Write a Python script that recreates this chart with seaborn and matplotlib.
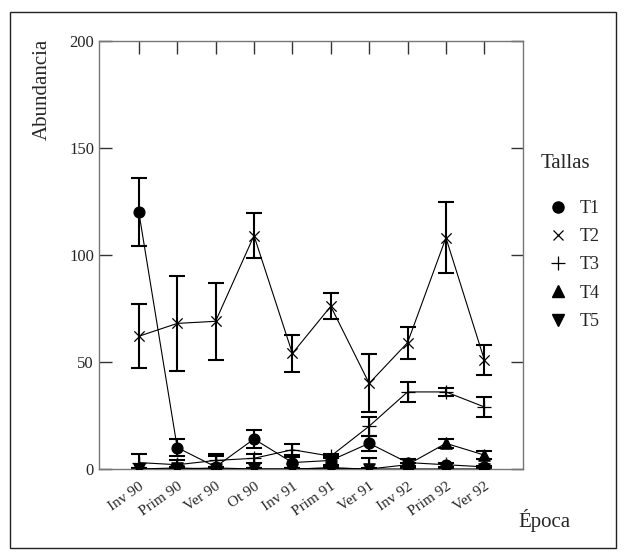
import matplotlib
matplotlib.use("Agg")
import matplotlib.pyplot as plt
from matplotlib.patches import Rectangle
from matplotlib.lines import Line2D
import seaborn as sns
import pandas as pd

# Datos
epocas = ["Inv 90", "Prim 90", "Ver 90", "Ot 90", "Inv 91",
          "Prim 91", "Ver 91", "Inv 92", "Prim 92", "Ver 92"]
tallas = ["T1", "T2", "T3", "T4", "T5"]

t1 = [120, 10, 1, 14, 3, 4, 12, 3, 2, 1]
t1_err = [16, 4, 5, 4, 2.5, 2, 3.5, 1.5, 1, 0.5]
t2 = [62, 68, 69, 109, 54, 76, 40, 59, 108, 51]
t2_err = [15, 22, 18, 10.5, 8.5, 6, 13.5, 7.5, 16.5, 7]
t3 = [3, 2, 4, 5, 9, 6, 20, 36, 36, 29]
t3_err = [4, 2, 3, 2, 2.5, 1, 4.5, 4.5, 2, 4.5]
t4 = [0, 0, 0.5, 0, 0, 0.5, 0, 2, 12, 6.5]
t4_err = [0.5, 0.5, 0.5, 0.5, 0.5, 0.5, 0.5, 1, 2, 2]
t5 = [0, 0.5, 0, 0, 0, 0.5, 0, 0, 0, 0]
t5_err = [0.5, 0.5, 0.5, 0.5, 0.5, 0.5, 5, 0.5, 0.5, 0.5]

valores = [t1, t2, t3, t4, t5]
errores = [t1_err, t2_err, t3_err, t4_err, t5_err]
marcadores = ["o", "x", "+", "^", "v"]

sns.set_style("ticks")
plt.rcParams["font.family"] = ["Liberation Serif", "DejaVu Serif"]

df = pd.DataFrame({
    "pos": [i for _ in tallas for i in range(len(epocas))],
    "abundancia": [v for serie in valores for v in serie],
    "talla": [t for t in tallas for _ in epocas],
})

fig = plt.figure(figsize=(6.26, 5.59), dpi=100)
ax = fig.add_axes([0.158, 0.161, 0.677, 0.766])

# Barras de error
for serie, err in zip(valores, errores):
    ax.errorbar(range(len(epocas)), serie, yerr=err, fmt="none",
                ecolor="black", elinewidth=1.5, capsize=6, capthick=1.5, zorder=2)

# Líneas
sns.lineplot(data=df, x="pos", y="abundancia", hue="talla",
             palette=["black"] * 5, linewidth=0.8, legend=False, ax=ax, zorder=3)

# Marcadores
estilos = {"o": dict(marker="o", s=60),
           "x": dict(marker="x", s=55, linewidths=0.9),
           "+": dict(marker="+", s=90, linewidths=0.9),
           "^": dict(marker="^", s=65),
           "v": dict(marker="v", s=65)}
for t, m in zip(tallas, marcadores):
    sub = df[df["talla"] == t]
    ax.scatter(sub["pos"], sub["abundancia"], color="black", zorder=4, **estilos[m])

ax.set_xlim(-1.04, 10.0)
ax.set_ylim(0, 200)
ax.set_yticks([0, 50, 100, 150, 200])
ax.set_xticks(range(len(epocas)))
ax.set_xticklabels(epocas, rotation=35, ha="right", rotation_mode="anchor", fontsize=11)
ax.tick_params(axis="y", labelsize=12)
ax.tick_params(direction="in", top=True, right=True, length=9, width=1, color="#333333")
ax.tick_params(axis="x", pad=8)
for s in ax.spines.values():
    s.set_color("#777777")
    s.set_linewidth(1)

ax.set_xlabel("")
ax.set_ylabel("")
fig.text(0.068, 0.84, "Abundancia", rotation=90, ha="center", va="center", fontsize=15)
fig.text(0.87, 0.068, "Época", ha="center", va="center", fontsize=15)

# Leyenda
handles = [
    Line2D([], [], color="black", marker="o", linestyle="none", markersize=8),
    Line2D([], [], color="black", marker="x", linestyle="none", markersize=7, markeredgewidth=0.9),
    Line2D([], [], color="black", marker="+", linestyle="none", markersize=10, markeredgewidth=0.9),
    Line2D([], [], color="black", marker="^", linestyle="none", markersize=8),
    Line2D([], [], color="black", marker="v", linestyle="none", markersize=8),
]
fig.text(0.863, 0.708, "Tallas", ha="left", va="center", fontsize=15)
ax.legend(handles, tallas, loc="upper left",
          bbox_to_anchor=(1.02, 0.666), frameon=False, fontsize=13,
          handletextpad=0.6, labelspacing=0.62, handlelength=1.2)

# Marco exterior
fig.patches.append(Rectangle((0.016, 0.02), 0.968, 0.958, transform=fig.transFigure,
                             fill=False, edgecolor="#222222", linewidth=1))

fig.savefig("out.png", dpi=100)
